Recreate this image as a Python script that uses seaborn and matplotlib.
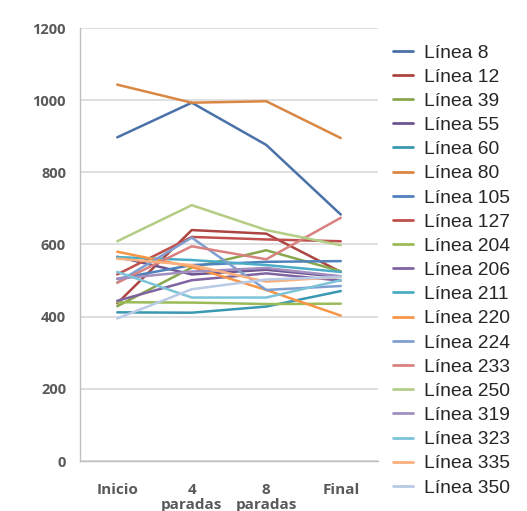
import matplotlib
matplotlib.use("Agg")
import matplotlib.pyplot as plt
import seaborn as sns
import pandas as pd

stages = ["Inicio", "4\nparadas", "8\nparadas", "Final"]
lines = ["Línea 8", "Línea 12", "Línea 39", "Línea 55", "Línea 60", "Línea 80",
         "Línea 105", "Línea 127", "Línea 204", "Línea 206", "Línea 211", "Línea 220",
         "Línea 224", "Línea 233", "Línea 250", "Línea 319", "Línea 323", "Línea 335",
         "Línea 350"]

l8 = [897, 993, 876, 683]
l12 = [437, 640, 630, 524]
l39 = [429, 536, 584, 526]
l55 = [566, 517, 530, 510]
l60 = [412, 411, 428, 471]
l80 = [1043, 993, 997, 895]
l105 = [505, 543, 552, 554]
l127 = [517, 621, 614, 609]
l204 = [440, 439, 435, 436]
l206 = [444, 501, 520, 500]
l211 = [565, 557, 543, 524]
l220 = [580, 538, 474, 403]
l224 = [495, 619, 474, 485]
l233 = [494, 595, 559, 674]
l250 = [609, 709, 640, 598]
l319 = [505, 525, 535, 512]
l323 = [524, 453, 453, 501]
l335 = [561, 543, 497, 510]
l350 = [395, 476, 503, 510]

values = [l8, l12, l39, l55, l60, l80, l105, l127, l204, l206, l211, l220,
          l224, l233, l250, l319, l323, l335, l350]

palette = ["#4A71A8", "#AC4542", "#88A74D", "#6E5592", "#3A98B1", "#DA8742",
           "#4F81BD", "#C0504D", "#9BBB59", "#8064A2", "#4BACC6", "#F79646",
           "#7F9FD0", "#D8817F", "#B3CD85", "#A28FC0", "#7DC4D8", "#F9B07E",
           "#B9CAE6"]

rows = []
for name, vals in zip(lines, values):
    for i, v in enumerate(vals):
        rows.append({"Línea": name, "pos": i, "valor": v})
df = pd.DataFrame(rows)

sns.set_style("white")
fig = plt.figure(figsize=(5.27, 5.11), dpi=100)
ax = fig.add_axes([80/527, 1-461/511, 298/527, 433/511])

sns.lineplot(data=df, x="pos", y="valor", hue="Línea", hue_order=lines,
             palette=palette, linewidth=1.8, sort=False, ax=ax, legend=True)

ax.set_xlim(-0.5, 3.5)
ax.set_ylim(0, 1200)
ax.set_yticks(range(0, 1201, 200))
ax.set_xticks(range(4))
ax.set_xticklabels(stages)
ax.set_xticks([0.5, 1.5, 2.5, 3.5], minor=True)
ax.set_xlabel("")
ax.set_ylabel("")
ax.yaxis.grid(True, color="#D9D9D9", linewidth=1.2)
ax.set_axisbelow(True)
for s in ["top", "right"]:
    ax.spines[s].set_visible(False)
for s in ["left", "bottom"]:
    ax.spines[s].set_color("#BFBFBF")
    ax.spines[s].set_linewidth(1)
ax.tick_params(axis="x", which="major", length=0, pad=16)
ax.tick_params(axis="x", which="minor", length=4, color="#BFBFBF", direction="out")
ax.tick_params(axis="y", length=4, color="#BFBFBF", pad=6)
for lab in ax.get_yticklabels():
    lab.set_fontfamily("Open Sans")
    lab.set_fontweight("bold")
    lab.set_fontsize(10.5)
    lab.set_color("#595959")
for lab in ax.get_xticklabels():
    lab.set_fontfamily("Open Sans")
    lab.set_fontweight("bold")
    lab.set_fontsize(11)
    lab.set_color("#595959")
    lab.set_linespacing(1.1)

leg = ax.legend(loc="upper left", bbox_to_anchor=(393/527, 1-44/511),
                bbox_transform=fig.transFigure, frameon=False,
                prop={"family": "Liberation Sans", "size": 13.9},
                handlelength=1.05, handletextpad=0.57, labelspacing=0.345,
                borderaxespad=0, borderpad=0)
for h in leg.get_lines():
    h.set_linewidth(2.0)

fig.savefig("out.png", dpi=100)
